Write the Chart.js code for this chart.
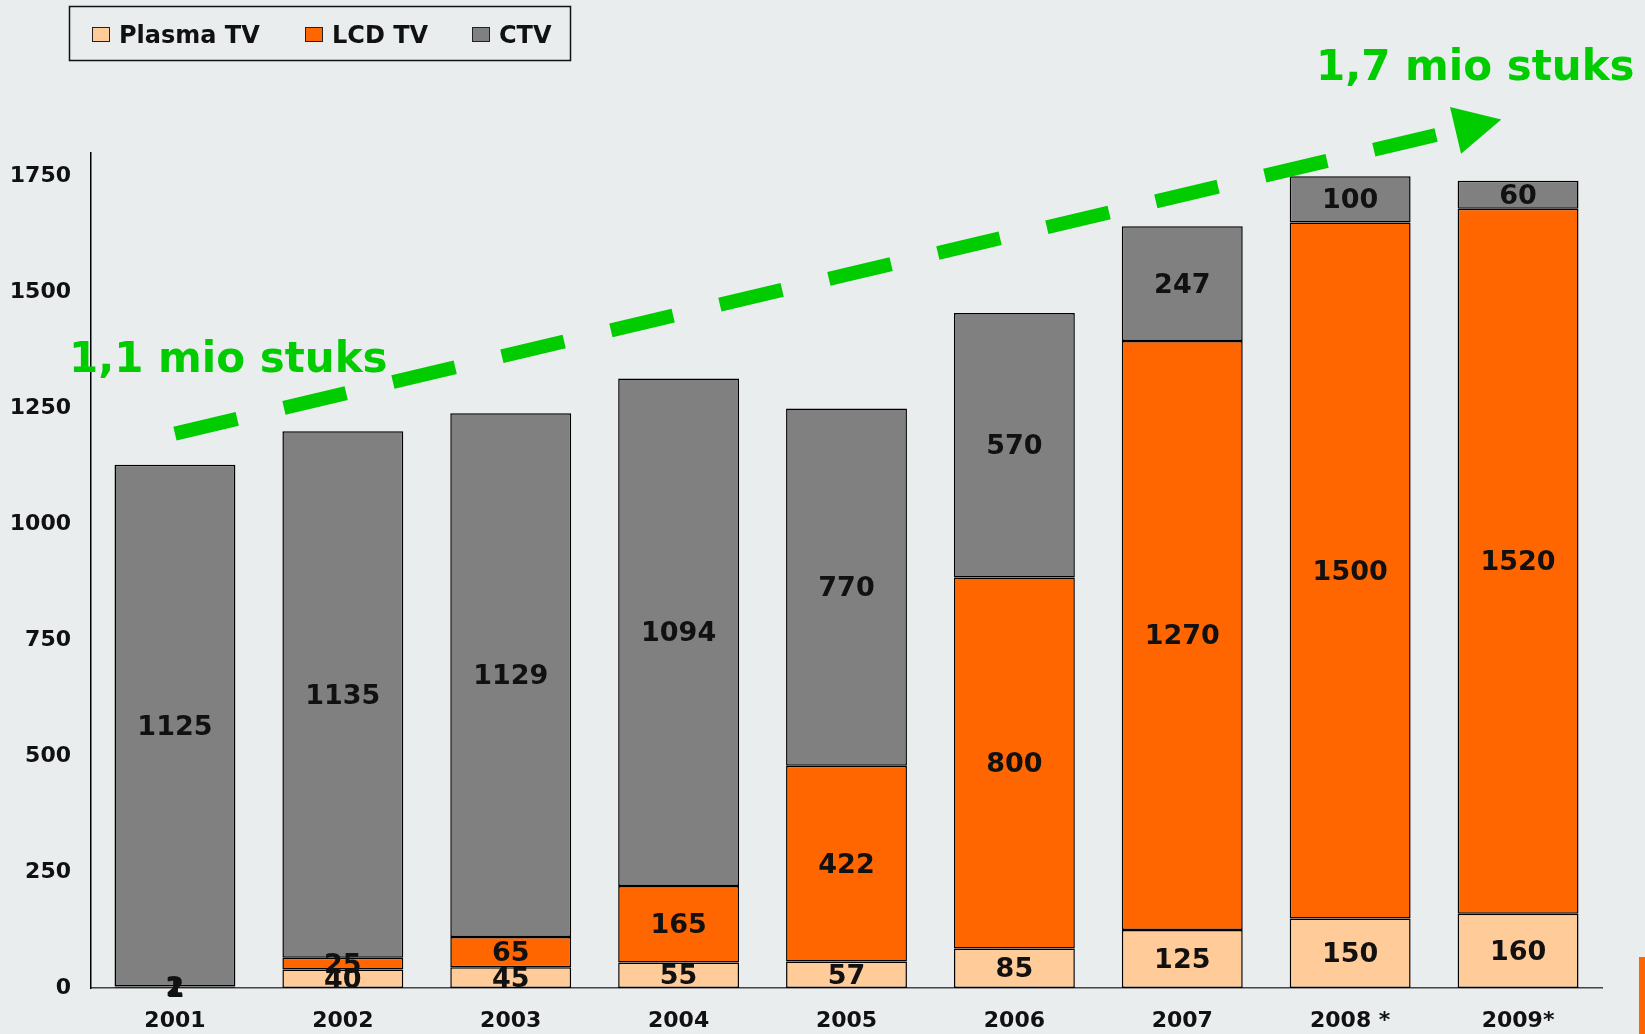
<!DOCTYPE html>
<html>
<head>
<meta charset="utf-8">
<script src="https://cdn.jsdelivr.net/npm/chart.js@4.4.0/dist/chart.umd.min.js"></script>
<style>
  html, body { margin: 0; padding: 0; background: #e9edee; }
  #wrap { width: 1645px; height: 1034px; position: relative; }
</style>
</head>
<body>
<div id="wrap"><canvas id="tvChart"></canvas></div>
<script>
// --- data ---
const years = ['2001', '2002', '2003', '2004', '2005', '2006', '2007', '2008 *', '2009*'];
const plasma = [1, 40, 45, 55, 57, 85, 125, 150, 160];
const lcd = [2, 25, 65, 165, 422, 800, 1270, 1500, 1520];
const ctv = [1125, 1135, 1129, 1094, 770, 570, 247, 100, 60];
const seriesNames = ['Plasma TV', 'LCD TV', 'CTV'];
const seriesColors = ['#ffcc99', '#ff6600', '#808080'];
const yTicks = [0, 250, 500, 750, 1000, 1250, 1500, 1750];
const growthLabels = ['1,1 mio stuks', '1,7 mio stuks'];

const FONT = '"DejaVu Sans", Verdana, sans-serif';

// background, value labels, legend box, growth arrow
const decor = {
    id: 'decor',
    beforeDraw(chart) {
        const c = chart.ctx;
        c.save();
        c.fillStyle = '#e9edee';
        c.fillRect(0, 0, chart.width, chart.height);
        c.restore();
    },
    afterDatasetsDraw(chart) {
        const c = chart.ctx;
        c.save();
        c.font = 'bold 27px ' + FONT;
        c.fillStyle = '#111';
        c.textAlign = 'center';
        c.textBaseline = 'middle';
        chart.data.datasets.forEach((ds, i) => {
            chart.getDatasetMeta(i).data.forEach((bar, j) => {
                const p = bar.getCenterPoint();
                c.fillText(ds.data[j], p.x, p.y + 2);
            });
        });
        c.restore();
    },
    afterDraw(chart) {
        const c = chart.ctx;
        const xs = chart.scales.x, ys = chart.scales.y;

        // legend
        c.save();
        c.strokeStyle = '#111';
        c.lineWidth = 1.5;
        c.strokeRect(69.5, 6.5, 501, 54);
        const itemX = [92, 305, 472];
        c.font = 'bold 24px ' + FONT;
        c.textBaseline = 'alphabetic';
        seriesNames.forEach((name, i) => {
            c.fillStyle = seriesColors[i];
            c.fillRect(itemX[i], 27, 18, 15);
            c.lineWidth = 1;
            c.strokeStyle = '#222';
            c.strokeRect(itemX[i] + 0.5, 27.5, 17, 14);
            c.fillStyle = '#111';
            c.fillText(name, itemX[i] + 27, 43);
        });
        c.restore();

        // dashed growth arrow
        const p0 = { x: xs.getPixelForValue(0), y: ys.getPixelForValue(1195) };
        const p1 = { x: xs.getPixelForValue(7.9), y: ys.getPixelForValue(1872) };
        const dx = p1.x - p0.x, dy = p1.y - p0.y;
        const len = Math.hypot(dx, dy);
        const ux = dx / len, uy = dy / len;
        const head = 47, half = 24;
        const bx = p1.x - ux * head, by = p1.y - uy * head;
        c.save();
        c.strokeStyle = '#00cc00';
        c.fillStyle = '#00cc00';
        c.lineWidth = 14;
        c.lineCap = 'butt';
        c.setLineDash([64, 48]);
        c.beginPath();
        c.moveTo(p0.x, p0.y);
        c.lineTo(bx, by);
        c.stroke();
        c.setLineDash([]);
        c.beginPath();
        c.moveTo(p1.x, p1.y);
        c.lineTo(bx - uy * half, by + ux * half);
        c.lineTo(bx + uy * half, by - ux * half);
        c.closePath();
        c.fill();

        c.font = 'bold 42px ' + FONT;
        c.textBaseline = 'alphabetic';
        c.textAlign = 'left';
        c.fillText(growthLabels[0], 69, 372);
        c.fillText(growthLabels[1], 1316, 80);
        c.restore();

        // orange slide mark at the right edge
        c.save();
        c.fillStyle = '#ff6600';
        c.fillRect(1639, 957, 6, 77);
        c.restore();
    }
};

document.addEventListener('DOMContentLoaded', function () {
    const ctx = document.getElementById('tvChart').getContext('2d');
    const sets = [plasma, lcd, ctv];

    new Chart(ctx, {
        type: 'bar',
        data: {
            labels: years,
            datasets: sets.map((d, i) => ({
                label: seriesNames[i],
                data: d,
                backgroundColor: seriesColors[i],
                borderColor: '#000',
                borderWidth: 1.5,
                borderSkipped: false,
                categoryPercentage: 1,
                barPercentage: 0.72
            }))
        },
        options: {
            responsive: true,
            maintainAspectRatio: false,
            animation: false,
            layout: { padding: { top: 153, right: 43, left: 0, bottom: 0 } },
            scales: {
                x: {
                    stacked: true,
                    grid: { display: false, drawTicks: false },
                    border: { display: true, color: '#444', width: 1.5 },
                    ticks: {
                        color: '#111',
                        padding: 20,
                        maxRotation: 0,
                        font: { size: 22, family: FONT, weight: 'bold' }
                    },
                    afterFit: s => { s.height = 46; }
                },
                y: {
                    stacked: true,
                    min: 0,
                    max: 1800,
                    bounds: 'data',
                    grid: { display: false, drawTicks: false },
                    border: { display: true, color: '#000', width: 1.5 },
                    afterBuildTicks: s => { s.ticks = yTicks.map(v => ({ value: v })); },
                    ticks: {
                        color: '#111',
                        padding: 20,
                        callback: v => String(v),
                        font: { size: 22, family: FONT, weight: 'bold' }
                    },
                    afterFit: s => { s.width = 91; }
                }
            },
            plugins: {
                legend: { display: false },
                tooltip: { enabled: false }
            }
        },
        plugins: [decor]
    });
});
</script>
</body>
</html>
